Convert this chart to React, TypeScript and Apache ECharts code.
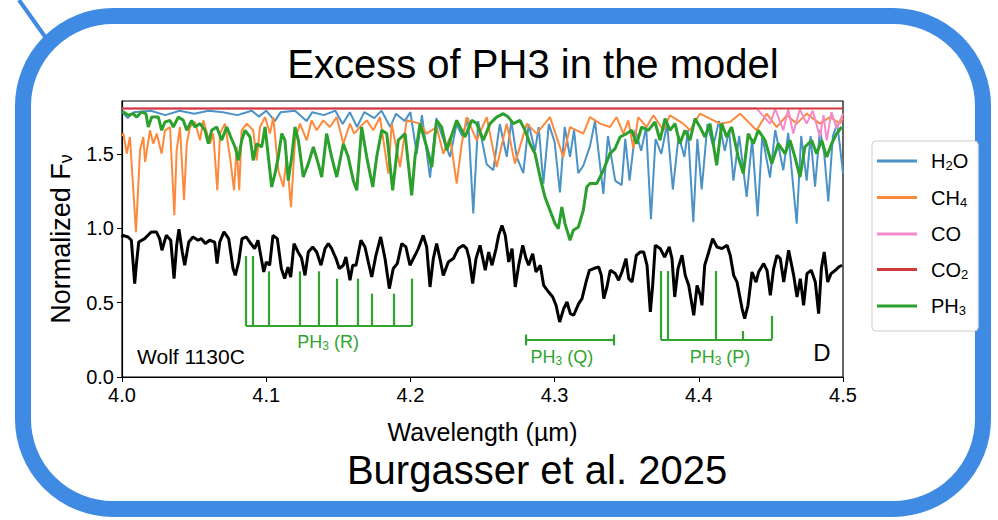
import React, { useEffect, useRef } from "react";
import * as echarts from "echarts";

const FONT = '"Liberation Sans", Arial, sans-serif';

// axis ticks
const WAVE_TICKS = [4.0, 4.1, 4.2, 4.3, 4.4, 4.5];
const FLUX_TICKS = [0, 0.5, 1.0, 1.5];

// observed spectrum (Wolf 1130C), [wavelength µm, normalized flux]
const WOLF_OBS: [number, number][] = [
  [4.0, 0.94], [4.0007, 0.952], [4.0042, 0.941], [4.0065, 0.919], [4.0088, 0.628], [4.0099, 0.751], [4.0116, 0.907],
  [4.0157, 0.93], [4.0203, 0.975], [4.0238, 0.975], [4.0261, 0.93], [4.0277, 0.852], [4.0307, 0.952], [4.0338, 0.919],
  [4.0361, 0.661], [4.0379, 0.885], [4.0395, 0.993], [4.0418, 0.84], [4.0435, 0.751], [4.0463, 0.907], [4.0492, 0.941],
  [4.0527, 0.919], [4.055, 0.93], [4.0578, 0.897], [4.0608, 0.919], [4.0643, 0.907], [4.0659, 0.762], [4.0678, 0.907],
  [4.0707, 0.975], [4.074, 0.93], [4.077, 0.729], [4.0786, 0.683], [4.0809, 0.773], [4.0832, 0.93], [4.0862, 0.941],
  [4.0893, 0.897], [4.092, 0.863], [4.0943, 0.919], [4.0962, 0.818], [4.0983, 0.706], [4.1001, 0.773], [4.1024, 0.751],
  [4.1047, 0.952], [4.1077, 0.93], [4.1105, 0.729], [4.1128, 0.661], [4.1151, 0.739], [4.117, 0.672], [4.1193, 0.897],
  [4.1221, 0.84], [4.1245, 0.8], [4.1269, 0.683], [4.1292, 0.84], [4.1322, 0.874], [4.135, 0.84], [4.138, 0.751],
  [4.1408, 0.863], [4.1431, 0.897], [4.1454, 0.863], [4.1484, 0.796], [4.1507, 0.729], [4.1535, 0.751], [4.1553, 0.806],
  [4.1581, 0.65], [4.16, 0.751], [4.1623, 0.751], [4.1657, 0.919], [4.1685, 0.874], [4.1708, 0.773], [4.1732, 0.672],
  [4.1761, 0.818], [4.1794, 0.941], [4.1824, 0.796], [4.1854, 0.594], [4.1881, 0.729], [4.1909, 0.762], [4.194, 0.897],
  [4.1969, 0.874], [4.1997, 0.751], [4.2032, 0.818], [4.2055, 0.863], [4.2089, 0.952], [4.2113, 0.874], [4.2136, 0.605],
  [4.2159, 0.796], [4.2182, 0.897], [4.2205, 0.796], [4.2228, 0.683], [4.2263, 0.773], [4.2298, 0.796], [4.2332, 0.863],
  [4.2367, 0.885], [4.239, 0.863], [4.2408, 0.796], [4.2432, 0.628], [4.2455, 0.796], [4.2483, 0.885], [4.2519, 0.717],
  [4.2543, 0.84], [4.2566, 0.751], [4.2594, 0.863], [4.2612, 0.952], [4.2635, 1.019], [4.2658, 0.952], [4.2682, 0.773],
  [4.2705, 0.863], [4.2727, 0.605], [4.2751, 0.751], [4.2779, 0.885], [4.2802, 0.796], [4.282, 0.751], [4.2848, 0.829],
  [4.2871, 0.706], [4.2901, 0.751], [4.2924, 0.616], [4.2959, 0.571], [4.2987, 0.538], [4.301, 0.482], [4.3035, 0.37],
  [4.3063, 0.46], [4.3086, 0.504], [4.3109, 0.426], [4.3132, 0.415], [4.3167, 0.493], [4.319, 0.527], [4.3218, 0.638],
  [4.3241, 0.717], [4.3271, 0.729], [4.3306, 0.739], [4.3324, 0.683], [4.3341, 0.527], [4.3363, 0.605], [4.3386, 0.717],
  [4.3421, 0.695], [4.3444, 0.65], [4.3467, 0.706], [4.3495, 0.796], [4.3514, 0.661], [4.3537, 0.638], [4.3567, 0.818],
  [4.3594, 0.84], [4.3618, 0.84], [4.3641, 0.751], [4.3664, 0.437], [4.368, 0.616], [4.3698, 0.885], [4.3733, 0.863],
  [4.3763, 0.806], [4.3795, 0.874], [4.3814, 0.796], [4.3833, 0.538], [4.3856, 0.729], [4.3884, 0.818], [4.3906, 0.683],
  [4.393, 0.616], [4.3965, 0.415], [4.3988, 0.616], [4.401, 0.549], [4.4022, 0.482], [4.4041, 0.751], [4.4069, 0.84],
  [4.4096, 0.93], [4.4126, 0.874], [4.4161, 0.863], [4.4196, 0.885], [4.4218, 0.818], [4.4242, 0.683], [4.4265, 0.638],
  [4.43, 0.46], [4.4318, 0.392], [4.4341, 0.482], [4.4369, 0.706], [4.4397, 0.638], [4.4415, 0.706], [4.445, 0.762],
  [4.4473, 0.717], [4.4496, 0.549], [4.4519, 0.729], [4.4542, 0.818], [4.4565, 0.796], [4.4589, 0.638], [4.4623, 0.852],
  [4.4658, 0.683], [4.4681, 0.538], [4.4704, 0.661], [4.4727, 0.482], [4.475, 0.695], [4.478, 0.717], [4.4808, 0.638],
  [4.4831, 0.426], [4.485, 0.729], [4.487, 0.84], [4.4894, 0.638], [4.4917, 0.695], [4.4947, 0.717], [4.497, 0.739],
  [4.4993, 0.751],
];

// molecular contribution models
const H2O: [number, number][] = [
  [4.0, 1.78], [4.004, 1.74], [4.008, 1.78], [4.02, 1.79], [4.03, 1.76], [4.04, 1.79], [4.05, 1.77], [4.06, 1.79],
  [4.07, 1.78], [4.08, 1.76], [4.09, 1.79], [4.095, 1.75], [4.1, 1.79], [4.106, 1.72], [4.11, 1.78], [4.12, 1.79],
  [4.128, 1.72], [4.132, 1.78], [4.14, 1.76], [4.148, 1.79], [4.153, 1.7], [4.158, 1.78], [4.163, 1.68], [4.168, 1.78],
  [4.175, 1.74], [4.18, 1.79], [4.186, 1.68], [4.19, 1.77], [4.196, 1.72], [4.2, 1.78], [4.2044, 1.5], [4.208, 1.76],
  [4.2136, 1.34], [4.218, 1.74], [4.222, 1.62], [4.2275, 1.48], [4.232, 1.7], [4.236, 1.62], [4.24, 1.74], [4.2436, 1.1],
  [4.247, 1.72], [4.2529, 1.43], [4.2575, 1.39], [4.262, 1.7], [4.2668, 1.48], [4.27, 1.72], [4.2737, 1.48],
  [4.2783, 1.37], [4.282, 1.7], [4.2864, 1.52], [4.289, 1.68], [4.2922, 1.3], [4.296, 1.7], [4.3, 1.58], [4.3037, 1.24],
  [4.307, 1.68], [4.3107, 1.48], [4.3135, 1.66], [4.3164, 1.37], [4.3199, 1.42], [4.3245, 1.55], [4.328, 1.72],
  [4.3338, 1.23], [4.337, 1.62], [4.342, 1.32], [4.3465, 1.29], [4.349, 1.6], [4.352, 1.32], [4.356, 1.66], [4.36, 1.52],
  [4.3635, 1.68], [4.3668, 1.06], [4.37, 1.6], [4.374, 1.5], [4.378, 1.7], [4.382, 1.26], [4.386, 1.62], [4.39, 1.48],
  [4.3925, 1.66], [4.3962, 1.04], [4.399, 1.6], [4.402, 1.26], [4.406, 1.7], [4.41, 1.55], [4.414, 1.72], [4.418, 1.52],
  [4.421, 1.66], [4.424, 1.32], [4.428, 1.62], [4.4332, 1.21], [4.437, 1.6], [4.4408, 1.08], [4.444, 1.62],
  [4.4494, 1.34], [4.453, 1.66], [4.4586, 1.39], [4.462, 1.64], [4.4679, 1.03], [4.471, 1.62], [4.4748, 1.32],
  [4.4775, 1.62], [4.4806, 1.28], [4.484, 1.66], [4.487, 1.5], [4.4898, 1.18], [4.493, 1.62], [4.496, 1.7],
  [4.4979, 1.55], [4.5, 1.37],
];

const CH4: [number, number][] = [
  [4.0, 1.62], [4.001, 1.636], [4.0033, 1.501], [4.0055, 1.613], [4.0097, 0.974], [4.0125, 1.524], [4.0148, 1.613],
  [4.016, 1.445], [4.0194, 1.658], [4.0217, 1.568], [4.0241, 1.636], [4.0275, 1.501], [4.0298, 1.658], [4.0333, 1.68],
  [4.0363, 1.087], [4.0379, 1.524], [4.0402, 1.68], [4.043, 1.188], [4.0449, 1.568], [4.0472, 1.68], [4.0506, 1.714],
  [4.0541, 1.591], [4.0564, 1.725], [4.061, 1.568], [4.0633, 1.636], [4.0661, 1.255], [4.068, 1.636], [4.0714, 1.703],
  [4.0749, 1.478], [4.0777, 1.255], [4.0795, 1.546], [4.0813, 1.255], [4.083, 1.658], [4.0865, 1.703], [4.091, 1.658],
  [4.0934, 1.456], [4.0957, 1.68], [4.0992, 1.747], [4.1026, 1.636], [4.1049, 1.747], [4.1084, 1.389], [4.1119, 1.277],
  [4.1142, 1.478], [4.1172, 1.142], [4.12, 1.591], [4.1234, 1.703], [4.1281, 1.591], [4.1315, 1.725], [4.135, 1.658],
  [4.1396, 1.725], [4.1442, 1.68], [4.1489, 1.747], [4.1535, 1.568], [4.1581, 1.703], [4.161, 1.636], [4.165, 1.68],
  [4.1697, 1.725], [4.1743, 1.658], [4.1789, 1.747], [4.1847, 1.367], [4.187, 1.703], [4.1928, 1.411], [4.1974, 1.725],
  [4.2067, 1.703], [4.2113, 1.636], [4.2182, 1.68], [4.2228, 1.501], [4.2275, 1.613], [4.2321, 1.3], [4.2356, 1.568],
  [4.239, 1.747], [4.246, 1.591], [4.2529, 1.747], [4.2598, 1.411], [4.2668, 1.703], [4.2725, 1.434], [4.2807, 1.703],
  [4.2876, 1.636], [4.2968, 1.747], [4.306, 1.478], [4.3107, 1.68], [4.3199, 1.636], [4.3245, 1.747], [4.3315, 1.703],
  [4.3384, 1.68], [4.343, 1.747], [4.3477, 1.636], [4.3511, 1.725], [4.3546, 1.535], [4.358, 1.747], [4.3638, 1.68],
  [4.3685, 1.759], [4.3754, 1.658], [4.38, 1.759], [4.3892, 1.703], [4.3939, 1.658], [4.4008, 1.77], [4.4078, 1.737],
  [4.4147, 1.703], [4.4216, 1.714], [4.4286, 1.77], [4.4401, 1.658], [4.4471, 1.77], [4.454, 1.68], [4.461, 1.759],
  [4.4679, 1.703], [4.4748, 1.77], [4.484, 1.703], [4.491, 1.747], [4.4979, 1.703], [4.5, 1.74],
];

const CO: [number, number][] = [
  [4.0, 1.805], [4.44, 1.805], [4.4494, 1.703], [4.453, 1.8], [4.4586, 1.658], [4.462, 1.8], [4.4655, 1.636],
  [4.47, 1.8], [4.4748, 1.703], [4.479, 1.79], [4.484, 1.613], [4.4865, 1.76], [4.4887, 1.591], [4.492, 1.78],
  [4.4956, 1.669], [4.5, 1.77],
];

const CO2: [number, number][] = [
  [4.0, 1.805], [4.5, 1.805],
];

const PH3: [number, number][] = [
  [4.0, 1.78], [4.001, 1.781], [4.0044, 1.759], [4.0078, 1.77], [4.0102, 1.747], [4.0136, 1.781], [4.0166, 1.77],
  [4.0182, 1.68], [4.0206, 1.747], [4.0252, 1.747], [4.0275, 1.658], [4.0298, 1.714], [4.0333, 1.725], [4.0356, 1.68],
  [4.039, 1.747], [4.0425, 1.725], [4.0449, 1.658], [4.0483, 1.725], [4.0506, 1.68], [4.0541, 1.703], [4.0576, 1.658],
  [4.0599, 1.568], [4.0622, 1.658], [4.0657, 1.68], [4.0691, 1.591], [4.0726, 1.68], [4.0754, 1.613], [4.0784, 1.546],
  [4.0807, 1.456], [4.083, 1.591], [4.0853, 1.658], [4.0888, 1.613], [4.091, 1.456], [4.0934, 1.568], [4.0969, 1.546],
  [4.0992, 1.68], [4.1015, 1.478], [4.1038, 1.277], [4.1061, 1.367], [4.1084, 1.478], [4.1108, 1.636], [4.113, 1.591],
  [4.1153, 1.32], [4.1177, 1.478], [4.12, 1.68], [4.1223, 1.591], [4.1257, 1.344], [4.1292, 1.434], [4.1327, 1.546],
  [4.1361, 1.434], [4.1385, 1.344], [4.1419, 1.636], [4.1454, 1.478], [4.1489, 1.344], [4.1535, 1.568], [4.1569, 1.478],
  [4.1604, 1.32], [4.1628, 1.255], [4.1662, 1.68], [4.1697, 1.478], [4.1739, 1.277], [4.1766, 1.478], [4.1801, 1.658],
  [4.1836, 1.636], [4.1877, 1.255], [4.1916, 1.591], [4.1963, 1.636], [4.2009, 1.221], [4.2032, 1.478], [4.2067, 1.703],
  [4.2113, 1.546], [4.2148, 1.411], [4.2182, 1.725], [4.2217, 1.68], [4.2252, 1.524], [4.2275, 1.591], [4.2321, 1.725],
  [4.2379, 1.613], [4.2425, 1.725], [4.246, 1.703], [4.2506, 1.591], [4.2552, 1.703], [4.2598, 1.747], [4.2644, 1.77],
  [4.2679, 1.747], [4.2714, 1.703], [4.276, 1.725], [4.2795, 1.658], [4.2829, 1.568], [4.2864, 1.501], [4.2899, 1.344],
  [4.2933, 1.21], [4.2968, 1.12], [4.3003, 1.031], [4.3026, 0.997], [4.305, 1.142], [4.3072, 1.031], [4.3107, 0.919],
  [4.313, 0.986], [4.3165, 1.008], [4.3199, 1.12], [4.3223, 1.277], [4.3245, 1.3], [4.3292, 1.3], [4.3338, 1.389],
  [4.3384, 1.501], [4.3419, 1.535], [4.3454, 1.613], [4.35, 1.636], [4.3535, 1.658], [4.3569, 1.568], [4.3604, 1.68],
  [4.365, 1.658], [4.3696, 1.714], [4.3731, 1.591], [4.3766, 1.737], [4.38, 1.658], [4.3835, 1.703], [4.3869, 1.568],
  [4.3904, 1.658], [4.3939, 1.591], [4.3974, 1.737], [4.4008, 1.68], [4.4043, 1.613], [4.4078, 1.703], [4.4124, 1.423],
  [4.4159, 1.703], [4.4193, 1.613], [4.4228, 1.68], [4.4274, 1.478], [4.4309, 1.367], [4.4343, 1.636], [4.4378, 1.568],
  [4.4413, 1.658], [4.4459, 1.591], [4.4506, 1.434], [4.4551, 1.568], [4.4598, 1.501], [4.4632, 1.591], [4.4667, 1.478],
  [4.4702, 1.344], [4.4736, 1.546], [4.4783, 1.591], [4.4817, 1.501], [4.4852, 1.591], [4.4887, 1.478], [4.4921, 1.568],
  [4.4956, 1.636], [4.4991, 1.68],
];

// PH3 band markers
const R_LINES_X = [4.086, 4.0904, 4.1021, 4.1234, 4.1364, 4.1486, 4.1632, 4.1732, 4.1884, 4.2009];
const R_LINES_TOP = [0.813, 0.813, 0.71, 0.71, 0.71, 0.661, 0.661, 0.56, 0.56, 0.661];
const R_BASE = 0.343;
const Q_SPAN = [4.2802, 4.3408];
const Q_LEVEL = 0.248;
const Q_CAPS = [0.213, 0.285];
const P_LINES_X = [4.3736, 4.3786, 4.4121, 4.4304, 4.4508];
const P_LINES_TOP = [0.712, 0.712, 0.712, 0.309, 0.41];
const P_BASE = 0.253;

const ANNOTATIONS = [
  { text: "{g|PH}{gs|3}{g| (R)}", x: 4.1429, y: 0.235 },
  { text: "{g|PH}{gs|3}{g| (Q)}", x: 4.305, y: 0.135 },
  { text: "{g|PH}{gs|3}{g| (P)}", x: 4.4147, y: 0.136 },
  { text: "{k|Wolf 1130C}", x: 4.0478, y: 0.136 },
  { text: "{d|D}", x: 4.4853, y: 0.168 },
];

const SERIES_NAMES = ["H2O", "CH4", "CO", "CO2", "PH3"];
const LEGEND_LABELS: Record<string, string> = {
  H2O: "{n|H}{s|2}{n|O}",
  CH4: "{n|CH}{s|4}",
  CO: "{n|CO}",
  CO2: "{n|CO}{s|2}",
  PH3: "{n|PH}{s|3}",
};
const COLORS: Record<string, string> = {
  H2O: "#4b92c6",
  CH4: "#fd8a3c",
  CO: "#f48acb",
  CO2: "#d23b3b",
  PH3: "#2ca02c",
};
const GREEN_ANN = "#2fa52f";

export default function App() {
  const ref = useRef<HTMLDivElement>(null);
  useEffect(() => {
    const chart = echarts.init(ref.current!, null, { renderer: "svg" });

    const bandSegments: any[] = [];
    R_LINES_X.forEach((x, i) => bandSegments.push({ coords: [[x, R_BASE], [x, R_LINES_TOP[i]]] }));
    bandSegments.push({ coords: [[R_LINES_X[0], R_BASE], [R_LINES_X[R_LINES_X.length - 1], R_BASE]] });
    bandSegments.push({ coords: [[Q_SPAN[0], Q_LEVEL], [Q_SPAN[1], Q_LEVEL]] });
    bandSegments.push({ coords: [[Q_SPAN[0], Q_CAPS[0]], [Q_SPAN[0], Q_CAPS[1]]] });
    bandSegments.push({ coords: [[Q_SPAN[1], Q_CAPS[0]], [Q_SPAN[1], Q_CAPS[1]]] });
    P_LINES_X.forEach((x, i) => bandSegments.push({ coords: [[x, P_BASE], [x, P_LINES_TOP[i]]] }));
    bandSegments.push({ coords: [[P_LINES_X[0], P_BASE], [P_LINES_X[P_LINES_X.length - 1], P_BASE]] });

    const modelData: Record<string, [number, number][]> = { H2O, CH4, CO, CO2, PH3 };

    const modelSeries = SERIES_NAMES.map((name, i) => ({
      name,
      type: "line",
      data: modelData[name],
      symbol: "none",
      showSymbol: false,
      silent: true,
      z: 2 + i,
      color: COLORS[name],
      lineStyle: { color: COLORS[name], width: name === "PH3" ? 3 : 2 },
    }));

    const labelRich = {
      g: { fontSize: 18, fontFamily: FONT, color: GREEN_ANN, lineHeight: 20, textBorderWidth: 0 },
      gs: { fontSize: 12, fontFamily: FONT, color: GREEN_ANN, lineHeight: 9, verticalAlign: "bottom", textBorderWidth: 0 },
      k: { fontSize: 21, fontFamily: FONT, color: "#000", lineHeight: 22, textBorderWidth: 0 },
      d: { fontSize: 24, fontFamily: FONT, color: "#000", lineHeight: 26, textBorderWidth: 0 },
    };

    chart.setOption({
      animation: false,
      grid: {
        left: 122,
        right: 155,
        top: 101,
        bottom: 143,
        show: true,
        borderColor: "#000",
        borderWidth: 1.2,
        backgroundColor: "transparent",
      },
      xAxis: {
        type: "value",
        min: 4.0,
        max: 4.5,
        interval: 0.1,
        axisLine: { show: true, lineStyle: { color: "#000", width: 1.2 } },
        axisTick: { show: true, length: 5, lineStyle: { color: "#000" }, customValues: WAVE_TICKS },
        axisLabel: {
          customValues: WAVE_TICKS,
          formatter: (v: number) => v.toFixed(1),
          fontFamily: FONT,
          fontSize: 20,
          color: "#000",
          margin: 8,
        },
        splitLine: { show: false },
        name: "Wavelength (µm)",
        nameLocation: "middle",
        nameGap: 42,
        nameTextStyle: { fontFamily: FONT, fontSize: 25, color: "#000" },
      },
      yAxis: {
        type: "value",
        min: 0,
        max: 1.855,
        interval: 0.5,
        axisLine: { show: true, lineStyle: { color: "#000", width: 1.2 } },
        axisTick: { show: true, length: 5, lineStyle: { color: "#000" }, customValues: FLUX_TICKS },
        axisLabel: {
          customValues: FLUX_TICKS,
          formatter: (v: number) => v.toFixed(1),
          fontFamily: FONT,
          fontSize: 20,
          color: "#000",
          margin: 8,
        },
        splitLine: { show: false },
        name: "{a|Normalized F}{b|ν}",
        nameLocation: "middle",
        nameRotate: 90,
        nameGap: 43,
        nameTextStyle: {
          rich: {
            a: { fontFamily: FONT, fontSize: 27, color: "#000", lineHeight: 28 },
            b: { fontFamily: FONT, fontSize: 18, color: "#000", lineHeight: 13, verticalAlign: "bottom" },
          },
        },
      },
      legend: {
        data: SERIES_NAMES,
        orient: "vertical",
        left: 872,
        top: 141,
        icon: "rect",
        itemWidth: 40,
        itemHeight: 3,
        itemGap: 15.5,
        padding: [10, 10, 14, 5],
        borderColor: "#cfcfcf",
        borderWidth: 1,
        borderRadius: 4,
        backgroundColor: "#fff",
        selectedMode: false,
        formatter: (name: string) => LEGEND_LABELS[name],
        textStyle: {
          padding: [0, 0, 0, 9],
          rich: {
            n: { fontFamily: FONT, fontSize: 20, color: "#000", lineHeight: 22 },
            s: { fontFamily: FONT, fontSize: 13, color: "#000", lineHeight: 10, verticalAlign: "bottom" },
          },
        },
      },
      series: [
        ...modelSeries,
        {
          name: "Wolf 1130C",
          type: "line",
          data: WOLF_OBS,
          symbol: "none",
          showSymbol: false,
          silent: true,
          z: 10,
          lineStyle: { color: "#000", width: 3 },
          color: "#000",
        },
        {
          name: "PH3 bands",
          type: "lines",
          coordinateSystem: "cartesian2d",
          data: bandSegments,
          silent: true,
          z: 11,
          lineStyle: { color: GREEN_ANN, width: 2.2, opacity: 1 },
        },
        {
          name: "labels",
          type: "scatter",
          silent: true,
          symbolSize: 1,
          itemStyle: { color: "rgba(0,0,0,0)" },
          z: 12,
          data: ANNOTATIONS.map((a) => ({
            value: [a.x, a.y],
            label: {
              show: true,
              position: "inside",
              formatter: a.text,
              color: "#000",
              textBorderWidth: 0,
              opacity: 1,
              rich: labelRich,
            },
          })),
        },
      ],
      graphic: [
        {
          type: "rect",
          silent: true,
          shape: { x: 23, y: 16, width: 960, height: 493, r: 90 },
          style: { fill: "none", stroke: "#3f8ae2", lineWidth: 16 },
        },
        {
          type: "line",
          silent: true,
          shape: { x1: 19, y1: 0, x2: 46, y2: 38 },
          style: { stroke: "#3f8ae2", lineWidth: 4 },
        },
        {
          type: "text",
          silent: true,
          x: 533,
          y: 64,
          style: {
            text: "Excess of PH3 in the model",
            fontFamily: FONT,
            fontSize: 40,
            fill: "#000",
            textAlign: "center",
            textVerticalAlign: "middle",
          },
        },
        {
          type: "text",
          silent: true,
          x: 537,
          y: 470,
          style: {
            text: "Burgasser et al. 2025",
            fontFamily: FONT,
            fontSize: 40,
            fill: "#000",
            textAlign: "center",
            textVerticalAlign: "middle",
          },
        },
      ],
    });

    return () => chart.dispose();
  }, []);

  return (
    <div
      ref={ref}
      style={{ position: "fixed", left: 0, top: 0, width: 998, height: 520, background: "#fff" }}
    />
  );
}
